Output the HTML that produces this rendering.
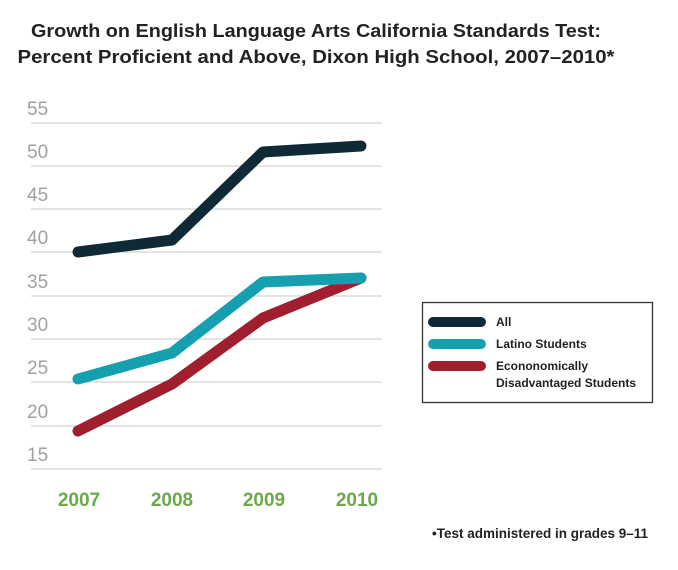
<!DOCTYPE html>
<html><head><style>
body{margin:0;background:#fff;}
svg{display:block;font-family:"Liberation Sans",sans-serif;}
</style></head><body>
<svg width="678" height="570" viewBox="0 0 678 570">
<text x="316" y="37" text-anchor="middle" font-size="18.5" font-weight="bold" fill="#222" textLength="570" lengthAdjust="spacingAndGlyphs">Growth on English Language Arts California Standards Test:</text>
<text x="316" y="63" text-anchor="middle" font-size="18.5" font-weight="bold" fill="#222" textLength="597" lengthAdjust="spacingAndGlyphs">Percent Proficient and Above, Dixon High School, 2007–2010*</text>
<g stroke="#d2d2d2" stroke-width="1.3">
<line x1="31" x2="382" y1="123" y2="123"/><line x1="31" x2="382" y1="166" y2="166"/>
<line x1="31" x2="382" y1="209" y2="209"/><line x1="31" x2="382" y1="252" y2="252"/>
<line x1="31" x2="382" y1="296" y2="296"/><line x1="31" x2="382" y1="339" y2="339"/>
<line x1="31" x2="382" y1="382" y2="382"/><line x1="31" x2="382" y1="426" y2="426"/>
<line x1="31" x2="382" y1="469" y2="469"/>
</g>
<g font-size="19" fill="#a0a0a0">
<text x="27" y="115">55</text><text x="27" y="158">50</text><text x="27" y="201">45</text>
<text x="27" y="244">40</text><text x="27" y="288">35</text><text x="27" y="331">30</text>
<text x="27" y="374">25</text><text x="27" y="418">20</text><text x="27" y="461">15</text>
</g>
<g fill="none" stroke-width="11" stroke-linecap="round" stroke-linejoin="round">
<polyline stroke="#a01e2d" points="78,431 172,384 263,318 361,278"/>
<polyline stroke="#169fae" points="78,379 172,353 263,282 361,278"/>
<polyline stroke="#0f2a36" points="78,252 172,240 263,152 361,146"/>
</g>
<g font-size="19" font-weight="bold" fill="#6aaa4a" text-anchor="middle">
<text x="79" y="506">2007</text><text x="172" y="506">2008</text>
<text x="264" y="506">2009</text><text x="357" y="506">2010</text>
</g>
<rect x="422.5" y="302.5" width="230" height="100" fill="#fff" stroke="#333" stroke-width="1.3"/>
<g stroke-width="10" stroke-linecap="round">
<line x1="433" x2="481" y1="322" y2="322" stroke="#0f2a36"/>
<line x1="433" x2="481" y1="344" y2="344" stroke="#169fae"/>
<line x1="433" x2="481" y1="366" y2="366" stroke="#a01e2d"/>
</g>
<g font-size="12" font-weight="bold" fill="#222">
<text x="496" y="326">All</text>
<text x="496" y="348">Latino Students</text>
<text x="496" y="370">Econonomically</text>
<text x="496" y="387">Disadvantaged Students</text>
</g>
<text x="432" y="538" font-size="13.5" font-weight="bold" fill="#222">•Test administered in grades 9–11</text>
</svg>
</body></html>
